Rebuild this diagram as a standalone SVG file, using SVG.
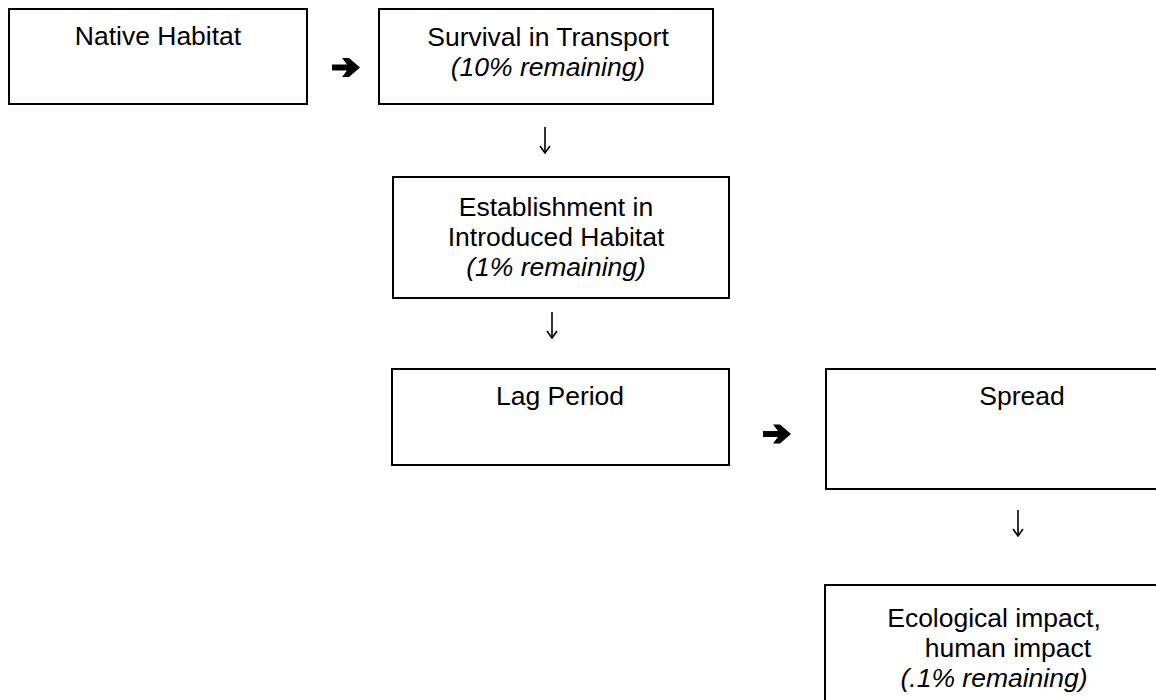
<svg xmlns="http://www.w3.org/2000/svg" width="1156" height="700" viewBox="0 0 1156 700">
<style>
.box{fill:#fff;stroke:#000;stroke-width:2}
.t{font-family:"Liberation Sans",Arial,sans-serif;font-size:26.5px;fill:#000;text-anchor:middle}
.i{font-style:italic}
.down{stroke:#000;stroke-width:1.6;fill:none}
.big{fill:#000;stroke:none}
</style>
<defs>
<marker id="dh" viewBox="0 0 10 12" refX="9" refY="6" markerWidth="10" markerHeight="12" markerUnits="userSpaceOnUse" orient="auto">
<path d="M2,1 L9,6 L2,11" fill="none" stroke="#000" stroke-width="1.6"/>
</marker>
</defs>
<rect width="1156" height="700" fill="#fff"/>
<g id="native">
<rect class="box" x="9" y="9" width="298" height="95"/>
<text class="t" x="158" y="45">Native Habitat</text>
</g>
<g id="survival">
<rect class="box" x="379" y="9" width="334" height="95"/>
<text class="t" x="548" y="46">Survival in Transport</text>
<text class="t i" x="548" y="76">(10% remaining)</text>
</g>
<g id="establishment">
<rect class="box" x="393" y="177" width="336" height="121"/>
<text class="t" x="556" y="216">Establishment in</text>
<text class="t" x="556" y="246">Introduced Habitat</text>
<text class="t i" x="556" y="276">(1% remaining)</text>
</g>
<g id="lag">
<rect class="box" x="392" y="369" width="337" height="96"/>
<text class="t" x="560" y="405">Lag Period</text>
</g>
<g id="spread">
<rect class="box" x="826" y="369" width="340" height="120"/>
<text class="t" x="1022" y="405">Spread</text>
</g>
<g id="impact">
<rect class="box" x="825" y="585" width="340" height="130"/>
<text class="t" x="994" y="627">Ecological impact,</text>
<text class="t" x="1008" y="657">human impact</text>
<text class="t i" x="994" y="687">(.1% remaining)</text>
</g>
<g id="connectors">
<path class="big" d="M332,64.5 H347 L342,58 H349 L360,67.5 L349,77 H342 L347,70.5 H332 Z"/>
<path class="big" d="M763,431 H778 L773,424.5 H780 L791,434 L780,443.5 H773 L778,437 H763 Z"/>
<line class="down" x1="545" y1="127" x2="545" y2="153" marker-end="url(#dh)"/>
<line class="down" x1="552" y1="312" x2="552" y2="338" marker-end="url(#dh)"/>
<line class="down" x1="1018" y1="510" x2="1018" y2="536" marker-end="url(#dh)"/>
</g>
</svg>
